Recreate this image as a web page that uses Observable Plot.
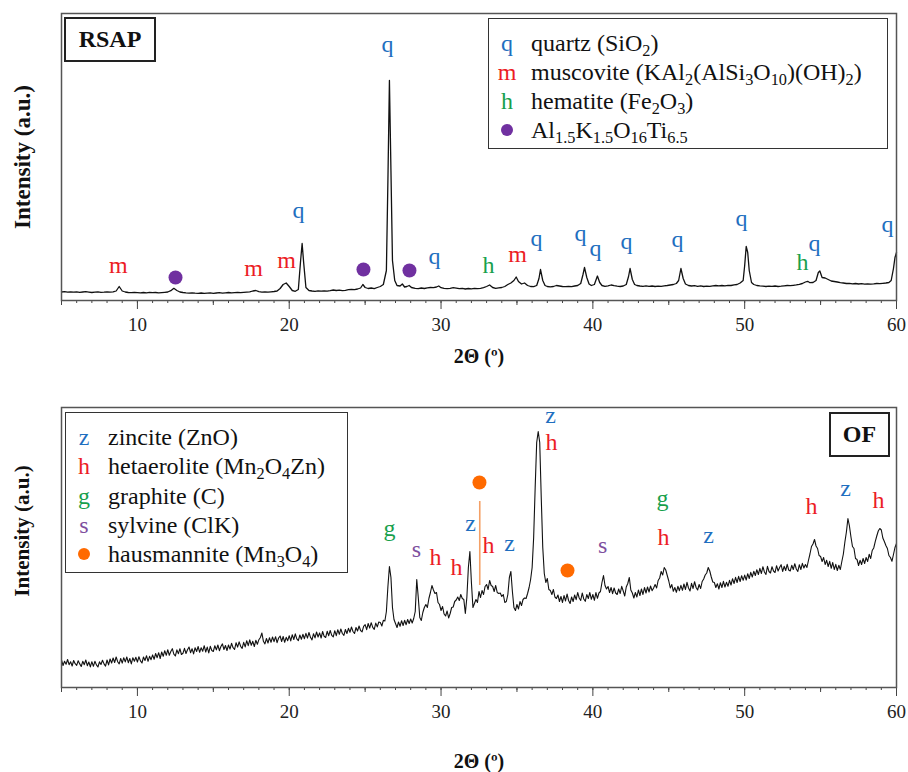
<!DOCTYPE html>
<html>
<head>
<meta charset="utf-8">
<script src="https://cdn.jsdelivr.net/npm/d3@7"></script>
<script src="https://cdn.jsdelivr.net/npm/@observablehq/plot@0.6"></script>
<style>
  body { margin: 0; background: #fff; }
  #wrap { position: relative; width: 908px; height: 772px; font-family: 'Liberation Serif', 'Times New Roman', serif; color: #111; }
  #wrap svg { display: block; }
  .legend { position: absolute; border: 1.5px solid #333; background: #fff; box-sizing: border-box; font-size: 24px; }
  .row { position: absolute; left: 0; height: 29px; line-height: 29px; white-space: nowrap; }
  .sym { position: absolute; left: 0; width: 36px; text-align: center; }
  .dotsym { display: inline-block; width: 12px; height: 12px; border-radius: 50%; vertical-align: middle; margin-top: -3px; }
  .txt { position: absolute; }
  sub { font-size: 0.68em; vertical-align: -0.28em; line-height: 0; }
  .tag { position: absolute; border: 2px solid #222; box-sizing: border-box; font-weight: bold; font-size: 24px; text-align: center; line-height: 41px; background: #fff; }
  .ylab { position: absolute; transform: translate(-50%, -50%) rotate(-90deg); white-space: nowrap; font-weight: bold; color: #111; }
</style>
</head>
<body>
<div id="wrap"></div>
<script>
// ---------- RSAP pattern: [2θ (°), intensity (a.u.)] ----------
const rsapScan = [
  [5.0,85],[5.2,88],[5.4,83],[5.6,86],[5.8,84],[6.0,87],[6.2,82],[6.4,85],[6.6,88],[6.8,84],
  [7.0,80],[7.2,83],[7.4,86],[7.6,82],[7.8,84],[8.0,87],[8.2,83],[8.4,86],[8.6,95],[8.8,140],
  [9.0,95],[9.2,85],[9.4,80],[9.6,78],[9.8,82],[10.0,79],[10.2,76],[10.4,80],[10.6,77],[10.8,81],
  [11.0,78],[11.2,80],[11.4,76],[11.6,79],[11.8,82],[12.0,85],[12.2,98],[12.4,122],[12.6,100],[12.8,85],
  [13.0,80],[13.2,76],[13.4,73],[13.6,77],[13.8,74],[14.0,72],[14.2,75],[14.4,71],[14.6,74],[14.8,76],
  [15.0,72],[15.2,75],[15.4,78],[15.6,74],[15.8,77],[16.0,80],[16.2,76],[16.4,79],[16.6,82],[16.8,78],
  [17.0,81],[17.2,84],[17.4,86],[17.6,95],[17.8,100],[18.0,88],[18.2,84],[18.4,86],[18.6,83],[18.8,87],
  [19.0,90],[19.2,95],[19.4,120],[19.6,160],[19.8,175],[20.0,140],[20.2,100],[20.4,92],[20.6,110],[20.75,400],
  [20.85,570],[20.95,380],[21.1,130],[21.3,100],[21.5,95],[21.7,92],[21.9,96],[22.1,93],[22.3,97],[22.5,94],
  [22.7,99],[22.9,105],[23.1,100],[23.3,103],[23.5,98],[23.7,102],[23.9,108],[24.1,112],[24.3,108],[24.5,115],
  [24.7,125],[24.85,160],[25.0,130],[25.2,120],[25.4,125],[25.6,118],[25.8,130],[26.0,140],[26.2,160],[26.4,300],
  [26.5,1200],[26.6,2200],[26.7,1300],[26.8,400],[26.95,200],[27.1,150],[27.3,145],[27.45,165],[27.6,135],[27.75,140],
  [27.9,150],[28.05,130],[28.3,122],[28.5,118],[28.7,125],[28.9,120],[29.1,126],[29.3,130],[29.5,128],[29.7,135],
  [29.85,145],[30.0,128],[30.2,122],[30.4,118],[30.6,122],[30.8,128],[31.0,124],[31.2,118],[31.4,122],[31.6,115],
  [31.8,120],[32.0,117],[32.2,121],[32.4,118],[32.6,122],[32.8,128],[33.0,140],[33.2,155],[33.4,130],[33.6,122],
  [33.8,126],[34.0,130],[34.2,140],[34.4,160],[34.6,175],[34.8,200],[34.95,235],[35.1,190],[35.3,165],[35.5,175],
  [35.7,150],[35.9,140],[36.1,138],[36.3,150],[36.45,220],[36.55,310],[36.7,200],[36.85,150],[37.0,140],[37.2,136],
  [37.4,140],[37.6,150],[37.8,145],[38.0,140],[38.2,138],[38.4,142],[38.6,139],[38.8,145],[39.0,150],[39.2,170],
  [39.35,260],[39.45,330],[39.6,230],[39.75,165],[39.9,150],[40.1,160],[40.3,245],[40.45,180],[40.6,150],[40.8,142],
  [41.0,146],[41.2,155],[41.4,148],[41.6,143],[41.8,140],[42.0,145],[42.2,160],[42.35,240],[42.45,320],[42.6,210],
  [42.75,160],[42.9,150],[43.1,145],[43.3,142],[43.5,146],[43.7,141],[43.9,145],[44.1,140],[44.3,144],[44.5,142],
  [44.7,146],[44.9,150],[45.1,155],[45.3,160],[45.5,170],[45.65,200],[45.8,320],[45.95,220],[46.1,165],[46.3,150],
  [46.5,145],[46.7,148],[46.9,142],[47.1,146],[47.3,140],[47.5,144],[47.7,141],[47.9,146],[48.1,150],[48.3,146],
  [48.5,150],[48.7,147],[48.9,152],[49.1,150],[49.3,156],[49.5,160],[49.7,175],[49.9,200],[50.0,350],[50.1,540],
  [50.2,480],[50.3,300],[50.45,180],[50.6,160],[50.8,150],[51.0,146],[51.2,143],[51.4,140],[51.6,144],[51.8,141],
  [52.0,145],[52.2,140],[52.4,143],[52.6,147],[52.8,150],[53.0,148],[53.2,152],[53.4,156],[53.6,162],[53.8,170],
  [54.0,185],[54.15,192],[54.3,178],[54.5,180],[54.7,200],[54.85,280],[54.95,295],[55.1,230],[55.3,225],[55.5,210],
  [55.7,195],[55.9,190],[56.1,185],[56.3,178],[56.5,175],[56.7,170],[56.9,172],[57.1,166],[57.3,170],[57.5,165],
  [57.7,168],[57.9,164],[58.1,167],[58.3,163],[58.5,166],[58.7,170],[58.9,168],[59.1,172],[59.3,175],[59.5,180],
  [59.65,200],[59.8,320],[59.9,430],[60.0,480]
];

// RSAP phase labels
const rsapLabelText      = ["m","m","m","q","q","q","h","m","q","q","q","q","q","q","h","q","q"];
const rsapLabelPhase     = ["muscovite","muscovite","muscovite","quartz","quartz","quartz","hematite","muscovite","quartz","quartz","quartz","quartz","quartz","quartz","hematite","quartz","quartz"];
const rsapLabelTheta     = [8.75,17.65,19.82,20.61,26.47,29.57,33.13,35.04,36.29,39.19,40.17,42.22,45.58,49.79,53.81,54.60,59.41];
const rsapLabelIntensity = [350,320,400,900,2560,440,350,460,620,670,520,590,610,820,380,570,760];
// Al1.5K1.5O16Ti6.5 markers
const rsapDotTheta     = [12.51,24.89,27.92];
const rsapDotIntensity = [230,310,300];

// ---------- OF pattern: intensities every 0.1° from 5° to 60° ----------
const ofStart = 5, ofStep = 0.1;
const ofIntensity = [
  275,220,262,232,280,228,258,215,270,238,
  222,268,236,210,262,228,275,218,255,206,
  258,212,262,226,205,256,230,272,236,214,
  275,226,285,245,295,250,305,258,236,290,
  244,298,256,305,248,290,236,298,262,302,
  255,308,266,245,305,270,318,262,312,278,
  326,282,340,298,348,290,355,312,368,322,
  378,322,360,388,334,315,376,338,388,330,
  342,392,340,378,405,348,388,336,398,360,
  410,352,398,362,418,355,404,346,412,370,
  360,418,376,425,368,410,436,380,420,370,
  425,384,442,398,380,448,404,456,412,392,
  452,406,468,418,476,422,462,410,472,432,
  478,500,545,462,436,490,445,498,452,505,
  458,508,448,495,515,460,510,452,502,468,
  518,466,528,480,536,486,468,525,482,532,
  488,542,494,550,502,476,538,496,555,505,
  546,495,560,512,500,562,518,570,522,506,
  568,518,578,532,585,540,522,580,540,592,
  552,605,560,540,600,565,615,570,556,612,
  628,578,640,594,648,602,582,644,606,655,
  650,615,672,665,760,1010,1210,1100,800,680,
  640,600,655,612,668,620,672,628,680,640,
  685,645,690,760,1080,900,700,670,750,800,
  830,800,890,950,1020,975,940,950,850,830,
  770,810,735,715,765,695,740,800,805,860,
  875,905,870,930,890,880,740,900,1200,1360,
  1050,800,840,880,850,960,900,970,930,1010,
  1030,980,1070,1020,1010,960,1020,950,940,945,
  910,930,850,860,930,1100,1160,960,800,770,
  830,785,860,820,880,895,890,940,1000,1080,
  1200,1500,2000,2450,2560,2450,1900,1400,1140,1050,
  1090,980,970,930,980,905,890,925,860,910,
  850,920,865,935,870,840,905,860,925,878,
  950,895,870,945,885,862,930,890,950,882,
  930,872,950,892,945,960,1050,1120,1020,985,
  1010,950,1000,938,995,945,930,985,940,1012,
  965,915,1005,1040,1100,975,945,895,950,905,
  975,920,985,930,1000,945,1005,955,1015,968,
  995,1030,995,1070,1095,1160,1125,1200,1175,1120,
  1065,995,1030,962,1000,952,1012,968,1022,972,
  1035,980,1052,995,965,1042,990,1058,1000,975,
  1030,990,1060,1085,1125,1145,1200,1165,1105,1055,
  1050,1000,1038,985,1048,1000,1062,1005,1052,1012,
  1072,1025,1088,1040,1102,1050,1112,1060,1118,1072,
  1124,1075,1138,1090,1152,1105,1162,1120,1178,1130,
  1192,1140,1208,1155,1130,1212,1160,1145,1208,1165,
  1150,1218,1165,1200,1228,1160,1212,1170,1232,1175,
  1165,1222,1180,1238,1185,1160,1228,1180,1242,1195,
  1230,1200,1270,1335,1410,1435,1480,1415,1390,1320,
  1310,1260,1300,1230,1272,1210,1262,1192,1250,1180,
  1232,1170,1222,1180,1260,1335,1455,1555,1690,1615,
  1505,1410,1390,1290,1280,1220,1272,1230,1290,1240,
  1300,1260,1332,1290,1370,1395,1458,1515,1565,1590,
  1575,1495,1460,1420,1390,1320,1300,1262,1330,1400,
  1440
];

// OF phase labels
const ofLabelText      = ["g","s","h","h","z","h","z","z","h","s","g","h","z","h","z","h"];
const ofLabelPhase     = ["graphite","sylvine","hetaerolite","hetaerolite","zincite","hetaerolite","zincite","zincite","hetaerolite","sylvine","graphite","hetaerolite","zincite","hetaerolite","zincite","hetaerolite"];
const ofLabelTheta     = [26.61,28.38,29.64,31.02,31.94,33.13,34.51,37.21,37.28,40.64,44.59,44.65,47.62,54.40,56.64,58.82];
const ofLabelIntensity = [1590,1380,1300,1200,1640,1420,1440,2720,2450,1420,1890,1500,1520,1810,1990,1870];
// hausmannite markers
const ofDotTheta     = [32.53,38.33];
const ofDotIntensity = [2050,1170];
// hausmannite guide line
const ofGuideTheta = [32.55], ofGuideFrom = [1020], ofGuideTo = [1860];

// Legends
const rsapLegendSymbol = ["q","m","h","●"];
const rsapLegendPhase  = ["quartz","muscovite","hematite","altiox"];
const rsapLegendName   = ["quartz (SiO<sub>2</sub>)","muscovite (KAl<sub>2</sub>(AlSi<sub>3</sub>O<sub>10</sub>)(OH)<sub>2</sub>)","hematite (Fe<sub>2</sub>O<sub>3</sub>)","Al<sub>1.5</sub>K<sub>1.5</sub>O<sub>16</sub>Ti<sub>6.5</sub>"];
const ofLegendSymbol = ["z","h","g","s","●"];
const ofLegendPhase  = ["zincite","hetaerolite","graphite","sylvine","hausmannite"];
const ofLegendName   = ["zincite (ZnO)","hetaerolite (Mn<sub>2</sub>O<sub>4</sub>Zn)","graphite (C)","sylvine (ClK)","hausmannite (Mn<sub>3</sub>O<sub>4</sub>)"];

// ---------- styling ----------
const phaseColor = {
  quartz: "#1f6fc0", muscovite: "#ec1c24", hematite: "#17a04c", altiox: "#7030a0",
  zincite: "#1f6fc0", hetaerolite: "#ec1c24", graphite: "#17a04c", sylvine: "#7e4f9e", hausmannite: "#ff6a00"
};
const serif = "'Liberation Serif', 'Times New Roman', serif";

function axisMarks() {
  return [
    Plot.axisX(d3.range(5, 61, 1), {tickSize: 3, tickFormat: () => "", stroke: "#444"}),
    Plot.axisX([5, 15, 25, 35, 45, 55], {tickSize: 5, tickFormat: () => "", stroke: "#444"}),
    Plot.axisX([10, 20, 30, 40, 50, 60], {tickSize: 9, tickPadding: 8, stroke: "#444", fill: "#222", fontSize: 19})
  ];
}

const wrap = document.getElementById("wrap");

// ---------- top panel ----------
const rsapData = rsapScan.map(([t, v]) => ({t, v}));
const topPlot = Plot.plot({
  width: 908, height: 375,
  marginLeft: 61, marginRight: 12, marginTop: 13, marginBottom: 75,
  x: {domain: [5, 60], label: null},
  y: {domain: [0, 2870], axis: null},
  color: {type: "identity"},
  style: {fontFamily: serif, fontSize: "19px", color: "#222", background: "#fff", overflow: "visible"},
  marks: [
    ...axisMarks(),
    Plot.line(rsapData, {x: "t", y: "v", stroke: "#111", strokeWidth: 1.3}),
    Plot.frame({stroke: "#555", strokeWidth: 1.5}),
    Plot.text(rsapLabelText, {
      x: (d, i) => rsapLabelTheta[i], y: (d, i) => rsapLabelIntensity[i],
      text: d => d, fill: (d, i) => phaseColor[rsapLabelPhase[i]],
      fontSize: 24, lineAnchor: "middle"
    }),
    Plot.dot(rsapDotTheta, {x: d => d, y: (d, i) => rsapDotIntensity[i], r: 7, fill: phaseColor.altiox}),
    Plot.text(["2Θ (º)"], {frameAnchor: "bottom", dy: 56, fontWeight: "bold", fontSize: 20, lineAnchor: "middle", fill: "#111"})
  ]
});
wrap.appendChild(topPlot);

// ---------- bottom panel ----------
const ofData = ofIntensity.map((v, i) => ({t: ofStart + i * ofStep, v}));
const botPlot = Plot.plot({
  width: 908, height: 397,
  marginLeft: 61, marginRight: 12, marginTop: 32, marginBottom: 85,
  x: {domain: [5, 60], label: null},
  y: {domain: [0, 2800], axis: null},
  color: {type: "identity"},
  style: {fontFamily: serif, fontSize: "19px", color: "#222", background: "#fff", overflow: "visible"},
  marks: [
    ...axisMarks(),
    Plot.line(ofData, {x: "t", y: "v", stroke: "#111", strokeWidth: 1.1}),
    Plot.frame({stroke: "#555", strokeWidth: 1.5}),
    Plot.ruleX(ofGuideTheta, {x: d => d, y1: (d, i) => ofGuideFrom[i], y2: (d, i) => ofGuideTo[i], stroke: "#f4a066", strokeWidth: 1.6}),
    Plot.text(ofLabelText, {
      x: (d, i) => ofLabelTheta[i], y: (d, i) => ofLabelIntensity[i],
      text: d => d, fill: (d, i) => phaseColor[ofLabelPhase[i]],
      fontSize: 24, lineAnchor: "middle"
    }),
    Plot.dot(ofDotTheta, {x: d => d, y: (d, i) => ofDotIntensity[i], r: 7, fill: phaseColor.hausmannite}),
    Plot.text(["2Θ (º)"], {frameAnchor: "bottom", dy: 74, fontWeight: "bold", fontSize: 20, lineAnchor: "middle", fill: "#111"})
  ]
});
wrap.appendChild(botPlot);

// ---------- y-axis titles, legends & sample tags (HTML overlays) ----------
function makeYLabel(text, cx, cy, size) {
  const d = document.createElement("div");
  d.className = "ylab";
  Object.assign(d.style, {left: cx + "px", top: cy + "px", fontSize: size + "px"});
  d.textContent = text;
  wrap.appendChild(d);
}
makeYLabel("Intensity (a.u.)", 23, 157, 23);
makeYLabel("Intensity (a.u.)", 22, 531, 21);

function makeLegend(left, top, width, height, rowCenters, symbols, phases, names) {
  const box = document.createElement("div");
  box.className = "legend";
  Object.assign(box.style, {left: left + "px", top: top + "px", width: width + "px", height: height + "px"});
  symbols.forEach((s, i) => {
    const row = document.createElement("div");
    row.className = "row";
    row.style.top = (rowCenters[i] - 14.5) + "px";
    const sym = document.createElement("span");
    sym.className = "sym";
    if (s === "●") {
      sym.innerHTML = `<span class="dotsym" style="background:${phaseColor[phases[i]]}"></span>`;
    } else {
      sym.textContent = s;
      sym.style.color = phaseColor[phases[i]];
    }
    const txt = document.createElement("span");
    txt.className = "txt";
    txt.style.left = "42px";
    txt.innerHTML = names[i];
    row.appendChild(sym);
    row.appendChild(txt);
    box.appendChild(row);
  });
  wrap.appendChild(box);
}
makeLegend(488, 18, 400, 131, [24, 53, 82, 111], rsapLegendSymbol, rsapLegendPhase, rsapLegendName);
makeLegend(65, 412, 283, 161, [24, 53, 83, 112, 141], ofLegendSymbol, ofLegendPhase, ofLegendName);

function makeTag(label, left, top, width, height) {
  const t = document.createElement("div");
  t.className = "tag";
  Object.assign(t.style, {left: left + "px", top: top + "px", width: width + "px", height: height + "px"});
  t.textContent = label;
  wrap.appendChild(t);
}
makeTag("RSAP", 64, 17, 92, 45);
makeTag("OF", 829, 412, 61, 45);
</script>
</body>
</html>
